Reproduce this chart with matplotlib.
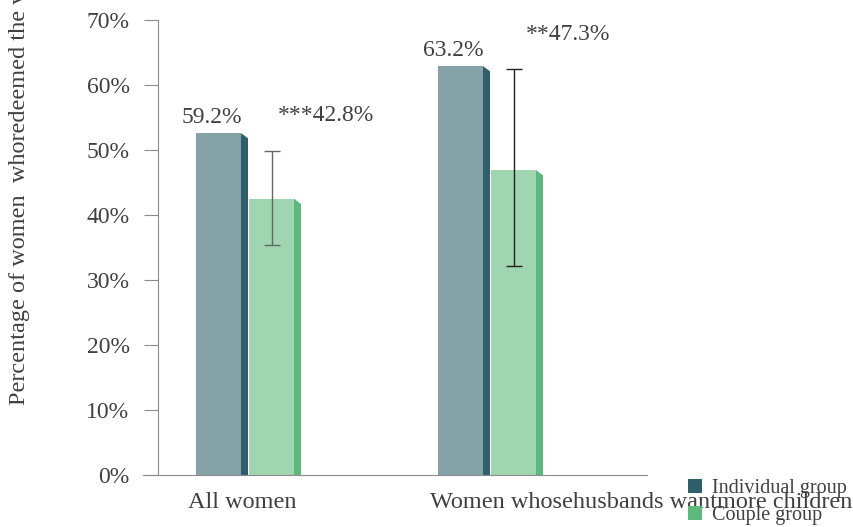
import matplotlib
matplotlib.use("Agg")
import matplotlib.pyplot as plt
from matplotlib.patches import Polygon, Patch

plt.rcParams['font.family'] = ['Liberation Serif', 'DejaVu Serif']

categories = ["All women", "Women whosehusbands wantmore children"]
series_names = ["Individual group", "Couple group"]
individual = [52.6, 62.9]
couple = [42.5, 46.9]
couple_err_low = [35.4, 32.2]
couple_err_high = [49.9, 62.4]
individual_labels = ["59.2%", "63.2%"]
couple_labels = ["***42.8%", "**47.3%"]
yticks = [0, 10, 20, 30, 40, 50, 60, 70]
ytick_labels = ["0%", "10%", "20%", "30%", "40%", "50%", "60%", "70%"]

front_colors = ["#84a2a8", "#9fd5b0"]
side_colors = ["#2e5f6b", "#5cb87c"]
err_colors = ["#666666", "#222222"]
text_color = "#404040"

W, H = 854, 527
fig = plt.figure(figsize=(W / 100, H / 100), dpi=100)
ax = fig.add_axes([158 / W, 1 - 475 / H, (647 - 158) / W, (475 - 20) / H])

unit = 242.0  # px per category
bw = 45 / unit
sd = 7 / unit
gap = 53 / unit
ax.set_xlim(-38 / unit, (647 - 158 - 38) / unit)
ax.set_ylim(0, 70)

slant = 0.8
for i, cat in enumerate(categories):
    for s, (vals, fc, scol) in enumerate([(individual, front_colors[0], side_colors[0]),
                                          (couple, front_colors[1], side_colors[1])]):
        x0 = i + s * gap
        h = vals[i]
        ax.bar(x0, h, width=bw, align='edge', color=fc, edgecolor='none', zorder=2)
        poly = Polygon([(x0 + bw, 0), (x0 + bw + sd, 0), (x0 + bw + sd, h - slant), (x0 + bw, h)],
                       closed=True, facecolor=scol, edgecolor='none', zorder=2)
        ax.add_patch(poly)
    xc = i + gap + bw / 2
    lo, hi = couple_err_low[i], couple_err_high[i]
    ax.errorbar([xc], [couple[i]], yerr=[[couple[i] - lo], [hi - couple[i]]], fmt='none',
                ecolor=err_colors[i], elinewidth=1.0, capsize=5.5, capthick=1.0, zorder=3)
    ax.annotate(individual_labels[i], (i + bw / 2, individual[i]), xytext=(-5, 11.5),
                textcoords='offset points', ha='center', va='center', fontsize=17, color=text_color)
    ax.annotate(couple_labels[i], (xc, hi), xytext=(39.5, 25),
                textcoords='offset points', ha='center', va='center', fontsize=17, color=text_color)
    ax.text(i - 0.035, -4.3, cat, ha='left', va='center', fontsize=17.5, color=text_color, clip_on=False)

ax.set_yticks(yticks)
ax.set_yticklabels(ytick_labels, fontsize=17, color=text_color)
ax.set_xticks([])
for sp in ['top', 'right']:
    ax.spines[sp].set_visible(False)
ax.spines['left'].set_color('#8c8c8c')
ax.spines['bottom'].set_color('#8c8c8c')
ax.spines['bottom'].set_bounds(ax.get_xlim()[0] - 15 / unit, ax.get_xlim()[1])
ax.tick_params(axis='y', length=10, color='#8c8c8c', pad=10.5)

fig.text(20 / W, 1 - 405 / H, "Percentage of women  whoredeemed the vouchers",
         rotation=90, ha='center', va='bottom', fontsize=17.5, color=text_color)

handles = [Patch(facecolor=side_colors[0]), Patch(facecolor=side_colors[1])]
fig.legend(handles, series_names, loc='upper left', bbox_to_anchor=(678 / W, 1 - 469 / H),
           frameon=False, fontsize=14.5, handlelength=0.7, handleheight=0.7,
           handletextpad=0.5, labelspacing=0.4, borderpad=0, labelcolor=text_color)

fig.savefig("out.png", dpi=100)
